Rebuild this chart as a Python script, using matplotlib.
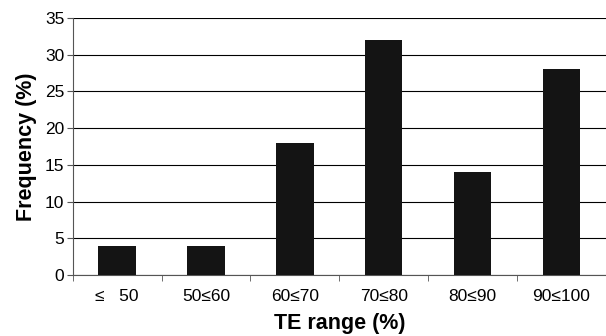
import matplotlib
matplotlib.use("Agg")
import matplotlib.pyplot as plt
import numpy as np

categories = ["≤   50", "50≤60", "60≤70", "70≤80", "80≤90", "90≤100"]
values = [4, 4, 18, 32, 14, 28]
yticks = [0, 5, 10, 15, 20, 25, 30, 35]

plt.rcParams['font.family'] = ['Liberation Sans', 'DejaVu Sans']

fig = plt.figure(figsize=(6.06, 3.36), dpi=100)
ax = fig.add_axes([0.12, 0.182, 0.88, 0.764])

x = np.arange(len(categories))
ax.bar(x, values, width=0.42, color='#141414', zorder=3)
ax.set_xlim(-0.5, len(categories) - 0.5)
ax.set_ylim(0, 35)
ax.set_yticks(yticks)
ax.yaxis.grid(True, color='black', linewidth=0.8, zorder=0)
ax.set_xticks(x)
ax.set_xticklabels(categories, fontsize=12.5)
ax.set_xticks(np.arange(len(categories) + 1) - 0.5, minor=True)
ax.tick_params(axis='x', which='major', length=0, pad=10)
ax.tick_params(axis='x', which='minor', length=4, color='#555555', direction='out')
ax.tick_params(axis='y', labelsize=12.5, length=4, color='#555555', pad=2)
for s in ['top', 'right']:
    ax.spines[s].set_visible(False)
ax.spines['left'].set_color('#555555')
ax.spines['bottom'].set_color('#555555')
ax.set_xlabel("TE range (%)", fontsize=15.5, fontweight='bold', labelpad=7)
ax.set_ylabel("Frequency (%)", fontsize=15.5, fontweight='bold', labelpad=6)

fig.savefig("out.png", dpi=100)
